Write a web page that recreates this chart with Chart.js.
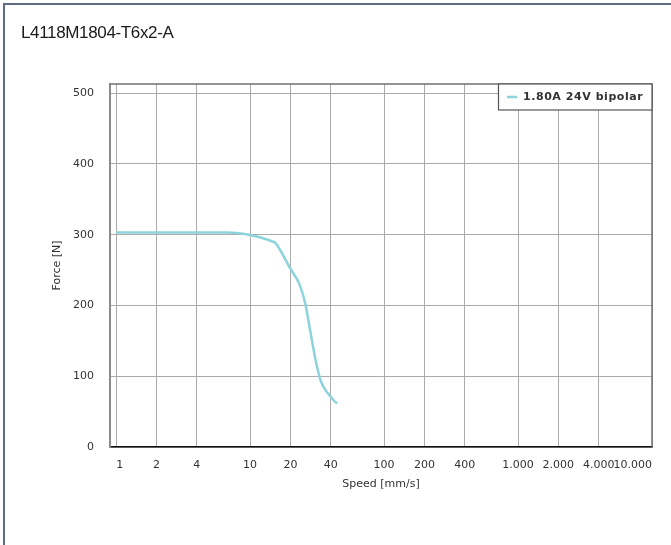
<!DOCTYPE html>
<html>
<head>
<meta charset="utf-8">
<script src="https://cdn.jsdelivr.net/npm/chart.js@4.4.1/dist/chart.umd.min.js"></script>
<style>
  html, body { margin: 0; padding: 0; background: #fff; }
  #wrap { width: 671px; height: 545px; position: relative; }
</style>
</head>
<body>
<div id="wrap"><canvas id="chart" width="671" height="545"></canvas></div>
<script>
const chartTitle = "L4118M1804-T6x2-A";
const seriesLabel = "1.80A 24V bipolar";
const speed = [1, 4, 6.5, 8.5, 10, 12.5, 15.5, 20, 23, 25.8, 28.3, 30.8, 33.6, 36.6, 40, 42.5, 44.7];
const force = [303, 303, 303, 301.8, 299.5, 295, 288, 252, 233, 203, 161, 123, 94, 80, 71, 65, 61.5];
const xTicks = [1, 2, 4, 10, 20, 40, 100, 200, 400, 1000, 2000, 4000, 10000];
const yTicks = [0, 100, 200, 300, 400, 500];

const lineColor = "#8dd3dc";
const font = "DejaVu Sans";

// 1000 -> "1.000"
function fmt(v) {
  return String(v).replace(/\B(?=(\d{3})+(?!\d))/g, ".");
}

// title, frame, plot border and the in-plot legend box
const decorations = {
  id: "decorations",
  afterDraw(chart) {
    const ctx = chart.ctx;
    const a = chart.chartArea;
    ctx.save();

    // page frame (left + top)
    ctx.fillStyle = "#5e6d7e";
    ctx.fillRect(3, 3, 2, 542);
    ctx.fillRect(3, 3, 668, 2);

    // title
    ctx.fillStyle = "#1a1a1a";
    ctx.font = "17px 'Liberation Sans', Arial, sans-serif";
    ctx.letterSpacing = "-0.35px";
    ctx.textBaseline = "alphabetic";
    ctx.textAlign = "left";
    ctx.fillText(chartTitle, 21, 38);
    ctx.letterSpacing = "0px";

    // top and right plot border
    ctx.strokeStyle = "#707070";
    ctx.lineWidth = 1.5;
    ctx.beginPath();
    ctx.moveTo(a.left, a.top);
    ctx.lineTo(a.right, a.top);
    ctx.lineTo(a.right, a.bottom);
    ctx.stroke();

    // legend
    const bx = 498.5, by = a.top, bw = a.right - 498.5, bh = 26;
    ctx.fillStyle = "#fff";
    ctx.fillRect(bx, by, bw, bh);
    ctx.strokeStyle = "#555";
    ctx.lineWidth = 1.2;
    ctx.strokeRect(bx, by, bw, bh);
    ctx.strokeStyle = lineColor;
    ctx.lineWidth = 2.5;
    ctx.beginPath();
    ctx.moveTo(507, by + 13);
    ctx.lineTo(517, by + 13);
    ctx.stroke();
    ctx.fillStyle = "#333";
    ctx.font = "bold 11px '" + font + "'";
    ctx.letterSpacing = "0.55px";
    ctx.textBaseline = "middle";
    ctx.fillText(chart.data.datasets[0].label, 523, by + 13.5);
    ctx.restore();
  }
};

const canvas = document.querySelector("#chart");
const points = speed.map((s, i) => ({ x: s, y: force[i] }));

const options = {
  type: "line",
  data: {
    datasets: [
      {
        label: seriesLabel,
        data: points,
        borderColor: lineColor,
        borderWidth: 2.5,
        pointRadius: 0,
        fill: false,
        tension: 0.2,
      },
    ],
  },
  options: {
    responsive: false,
    animation: false,
    layout: { padding: { top: 84, left: 0, right: 19, bottom: 38 } },
    plugins: {
      legend: { display: false },
      title: { display: false },
      tooltip: { enabled: false },
    },
    scales: {
      x: {
        type: "logarithmic",
        min: 0.9,
        max: 10000,
        afterBuildTicks: (s) => { s.ticks = xTicks.map((v) => ({ value: v })); },
        afterFit: (s) => { s.height = 60; s.paddingLeft = 0; s.paddingRight = 0; },
        grid: { color: "#ababab", lineWidth: 1, drawTicks: false },
        border: { color: "#111", width: 1.5 },
        ticks: {
          autoSkip: false,
          maxRotation: 0,
          align: "inner",
          padding: 12,
          color: "#333",
          font: { family: font, size: 11 },
          callback: (v) => fmt(v),
        },
        title: {
          display: true,
          text: "Speed [mm/s]",
          color: "#333",
          font: { family: font, size: 11 },
          padding: { top: 0, bottom: 16 },
        },
      },
      y: {
        min: 0,
        max: 513,
        afterBuildTicks: (s) => { s.ticks = yTicks.map((v) => ({ value: v })); },
        afterFit: (s) => { s.width = 110; s.paddingTop = 0; s.paddingBottom = 0; },
        grid: { color: "#ababab", lineWidth: 1, drawTicks: false },
        border: { color: "#8a8a8a", width: 2 },
        ticks: {
          padding: 16,
          color: "#333",
          font: { family: font, size: 11 },
        },
        title: {
          display: true,
          text: "Force [N]",
          color: "#333",
          font: { family: font, size: 11 },
          padding: { top: 51, bottom: 0 },
        },
      },
    },
  },
  plugins: [decorations],
};

const forceChart = new Chart(canvas, options);
</script>
</body>
</html>
